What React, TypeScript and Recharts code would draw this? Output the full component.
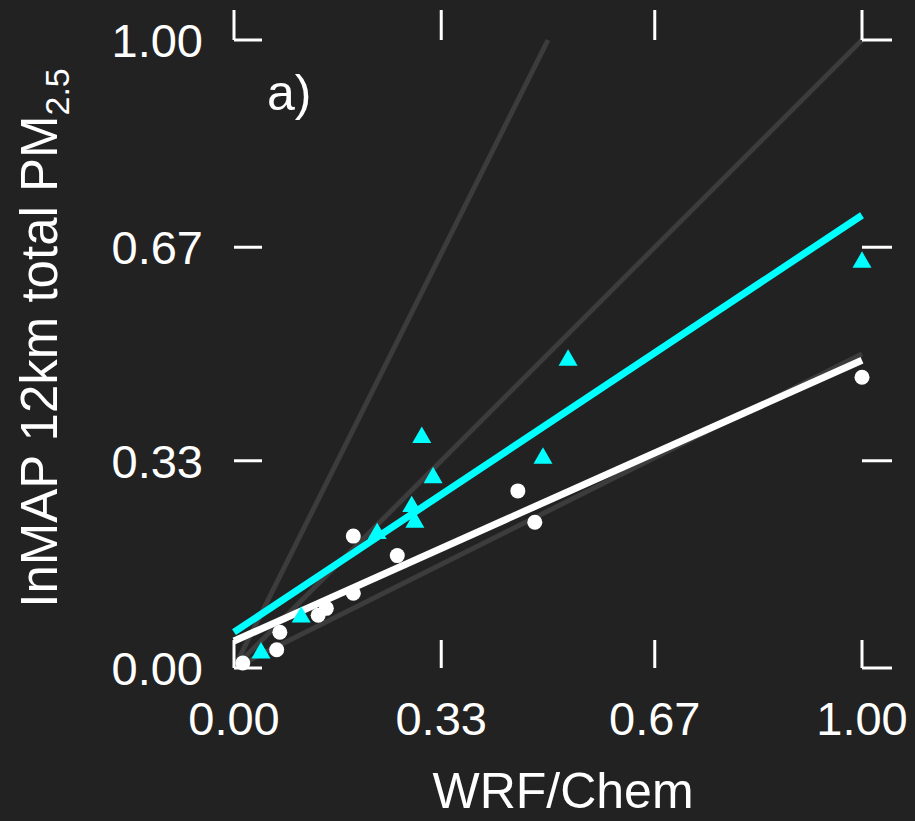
import { ReferenceLine, Scatter, ScatterChart, XAxis, YAxis } from 'recharts';

const FONT = '"Liberation Sans", Arial, Helvetica, sans-serif';

const ticks = [0, 0.33, 0.67, 1];
const tickLabels = ['0.00', '0.33', '0.67', '1.00'];

// WRF/Chem (x) vs InMAP (y), white circles
const whiteX = [0.014, 0.068, 0.073, 0.134, 0.147, 0.19, 0.19, 0.26, 0.452, 0.479, 1.0];
const whiteY = [0.008, 0.029, 0.057, 0.084, 0.095, 0.119, 0.21, 0.179, 0.282, 0.232, 0.463];

// cyan triangles
const cyanX = [0.043, 0.107, 0.228, 0.283, 0.288, 0.299, 0.317, 0.492, 0.532, 1.0];
const cyanY = [0.024, 0.081, 0.214, 0.257, 0.232, 0.367, 0.303, 0.334, 0.49, 0.646];

// fitted lines: value at x=0 and x=1
const whiteFit = [0.043, 0.49];
const cyanFit = [0.057, 0.721];

// grey guide lines through the origin
const guideSlopes = [2, 1, 0.5];

const whitePts = whiteX.map((x, i) => ({ x, y: whiteY[i] }));
const cyanPts = cyanX.map((x, i) => ({ x, y: cyanY[i] }));

// plot box size, used to mirror tick marks onto top/right sides
const PLOT_W = 628;
const PLOT_H = 628;

const fmt = (v: number) => tickLabels[ticks.indexOf(v)] ?? v.toFixed(2);

const BottomTick = (props: any) => {
  const { x, y, payload } = props;
  return (
    <g>
      <line x1={x} x2={x} y1={y} y2={y - 28} stroke="#fff" strokeWidth={3} />
      <line x1={x} x2={x} y1={y - PLOT_H} y2={y - PLOT_H - 30} stroke="#fff" strokeWidth={3} />
      <text x={x} y={y + 67} textAnchor="middle" fill="#fff" fontSize={47} fontFamily={FONT}>
        {fmt(payload.value)}
      </text>
    </g>
  );
};

const LeftTick = (props: any) => {
  const { x, y, payload } = props;
  return (
    <g>
      <line x1={x} x2={x + 28} y1={y} y2={y} stroke="#fff" strokeWidth={3} />
      <line x1={x + PLOT_W} x2={x + PLOT_W + 30} y1={y} y2={y} stroke="#fff" strokeWidth={3} />
      <text x={x - 31} y={y + 17} textAnchor="end" fill="#fff" fontSize={47} fontFamily={FONT}>
        {fmt(payload.value)}
      </text>
    </g>
  );
};

const Circle = (props: any) => <circle cx={props.cx} cy={props.cy} r={7.5} fill="#ffffff" />;

const Triangle = (props: any) => {
  const { cx, cy } = props;
  const s = 19;
  const h = s * 0.866;
  return (
    <path
      d={`M${cx},${cy - (2 * h) / 3} L${cx + s / 2},${cy + h / 3} L${cx - s / 2},${cy + h / 3} Z`}
      fill="#00ffff"
    />
  );
};

const XTitle = (props: any) => {
  const { viewBox } = props;
  return (
    <text
      x={viewBox.x + viewBox.width / 2 + 15}
      y={viewBox.y + viewBox.height - 13}
      textAnchor="middle"
      fill="#fff"
      fontSize={50}
      fontFamily={FONT}
    >
      WRF/Chem
    </text>
  );
};

const YTitle = (props: any) => {
  const { viewBox } = props;
  const cx = viewBox.x + 57;
  const cy = viewBox.y + viewBox.height / 2 - 16;
  return (
    <text
      x={cx}
      y={cy}
      transform={`rotate(-90 ${cx} ${cy})`}
      textAnchor="middle"
      fill="#fff"
      fontSize={51}
      fontFamily={FONT}
    >
      InMAP 12km total PM
      <tspan fontSize={34} dy={12}>
        2.5
      </tspan>
    </text>
  );
};

export default function App() {
  return (
    <div style={{ position: 'absolute', left: 0, top: 0, width: 915, height: 821, background: '#222222' }}>
      <ScatterChart width={915} height={821} margin={{ top: 40, right: 53, bottom: 0, left: 0 }}>
        <XAxis
          dataKey="x"
          type="number"
          domain={[0, 1]}
          ticks={ticks}
          interval={0}
          height={153}
          axisLine={false}
          tickLine={false}
          tickSize={0}
          tickMargin={0}
          tick={BottomTick}
          label={{ content: XTitle }}
        />
        <YAxis
          dataKey="y"
          type="number"
          domain={[0, 1]}
          ticks={ticks}
          interval={0}
          width={234}
          axisLine={false}
          tickLine={false}
          tickSize={0}
          tickMargin={0}
          tick={LeftTick}
          label={{ content: YTitle }}
        />
        {guideSlopes.map((s) => {
          const xEnd = Math.min(1, 1 / s);
          return (
            <ReferenceLine
              key={s}
              segment={[
                { x: 0, y: 0 },
                { x: xEnd, y: s * xEnd },
              ]}
              stroke="#3c3c3c"
              strokeWidth={5}
            />
          );
        })}
        <ReferenceLine
          segment={[
            { x: 0, y: whiteFit[0] },
            { x: 1, y: whiteFit[1] },
          ]}
          stroke="#ffffff"
          strokeWidth={7}
        />
        <ReferenceLine
          segment={[
            { x: 0, y: cyanFit[0] },
            { x: 1, y: cyanFit[1] },
          ]}
          stroke="#00ffff"
          strokeWidth={7}
        />
        <Scatter data={whitePts} fill="#ffffff" shape={Circle} isAnimationActive={false} />
        <Scatter data={cyanPts} fill="#00ffff" shape={Triangle} isAnimationActive={false} />
      </ScatterChart>
      <svg width={915} height={821} style={{ position: 'absolute', left: 0, top: 0, pointerEvents: 'none' }}>
        <text x={267} y={110} fill="#fff" fontSize={50} fontFamily={FONT}>
          a)
        </text>
      </svg>
    </div>
  );
}
